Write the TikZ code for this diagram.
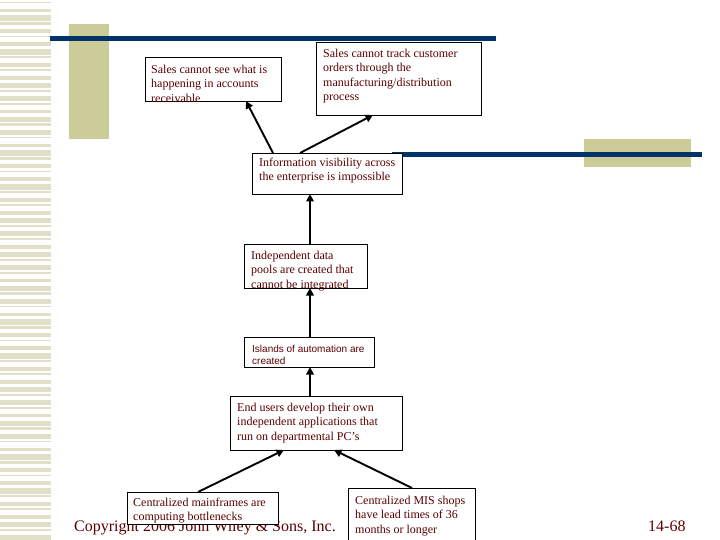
\documentclass[tikz,border=0pt]{standalone}
\usepackage{fontspec}
\setmainfont{Liberation Serif}
\newfontfamily\arialf{Liberation Sans}
\usetikzlibrary{arrows.meta}
\definecolor{navy}{RGB}{0,51,102}
\definecolor{tanc}{RGB}{204,204,153}
\definecolor{stripec}{RGB}{224,223,200}
\definecolor{maroonc}{RGB}{90,0,0}
\begin{document}
\begin{tikzpicture}[x=1pt,y=-1pt,
  box/.style={draw=black,line width=0.8pt,fill=white,anchor=north west,inner sep=0pt,outer sep=0pt},
  txt/.style={anchor=north west,inner sep=0pt,align=left,text=maroonc,font=\fontsize{12}{14.5}\selectfont},
  stxt/.style={anchor=north west,inner sep=0pt,align=left,text=maroonc,font=\arialf\fontsize{10}{12}\selectfont},
  foot/.style={anchor=base west,inner sep=0pt,text=maroonc,font=\fontsize{16}{18}\selectfont},
  arr/.style={line width=1.9pt,-{Triangle[length=7.5pt,width=7.5pt]}}]
\useasboundingbox (0,0) rectangle (720,540);
\clip (0,0) rectangle (720,540);
% left stripes
\foreach \i [evaluate=\i as \yy using 2+\i*6.75, evaluate=\i as \hh using {mod(\i*7,5)+1.5}] in {0,...,79}
  {\fill[stripec] (0,\yy) rectangle (51,\yy+\hh);}
% decorative bars
\fill[tanc] (69,24) rectangle (109,139);
\fill[navy] (50,36) rectangle (496,41);
\fill[tanc] (584,139) rectangle (691,167);
\fill[navy] (392,152) rectangle (702,157);
% footer texts
\node[foot] (copy) at (74,531) {Copyright 2006 John Wiley \& Sons, Inc.};
\node[foot] (pg) at (648,531) {14-68};
% boxes
\node[box,minimum width=136,minimum height=44] (A) at (145,57) {};
\node[box,minimum width=165,minimum height=73] (B) at (316,42) {};
\node[box,minimum width=150,minimum height=41] (C) at (252,153) {};
\node[box,minimum width=123,minimum height=44] (D) at (244,244) {};
\node[box,minimum width=130,minimum height=30] (E) at (244,337) {};
\node[box,minimum width=172,minimum height=54] (F) at (230,396) {};
\node[box,minimum width=151,minimum height=32] (G) at (127,492) {};
\node[box,minimum width=127,minimum height=60] (H) at (348,488) {};
% texts
\node[txt] (tA) at (151,64.5) {Sales cannot see what is\\happening in accounts\\receivable};
\node[txt] (tB) at (323,48.5) {Sales cannot track customer\\orders through the\\manufacturing/distribution\\process};
\node[txt] (tC) at (259,157.5) {Information visibility across\\the enterprise is impossible};
\node[txt] (tD) at (251,250.5) {Independent data\\pools are created that\\cannot be integrated};
\node[stxt] (tE) at (252,344.8) {Islands of automation are\\created};
\node[txt] (tF) at (237,402.5) {End users develop their own\\independent applications that\\run on departmental PC’s};
\node[txt] (tG) at (133,497.5) {Centralized mainframes are\\computing bottlenecks};
\node[txt] (tH) at (355,495.5) {Centralized MIS shops\\have lead times of 36\\months or longer};
% connectors
\draw[arr] ([xshift=21pt]C.north west) -- ([xshift=101pt]A.south west);
\draw[arr] ([xshift=48pt]C.north west) -- ([xshift=57pt]B.south west);
\draw[arr] ([xshift=66pt]D.north west) -- ([xshift=58pt]C.south west);
\draw[arr] ([xshift=66pt]E.north west) -- ([xshift=66pt]D.south west);
\draw[arr] ([xshift=80pt]F.north west) -- ([xshift=66pt]E.south west);
\draw[arr] ([xshift=71pt]G.north west) -- ([xshift=54pt]F.south west);
\draw[arr] ([xshift=64pt]H.north west) -- ([xshift=104pt]F.south west);
\end{tikzpicture}
\end{document}
